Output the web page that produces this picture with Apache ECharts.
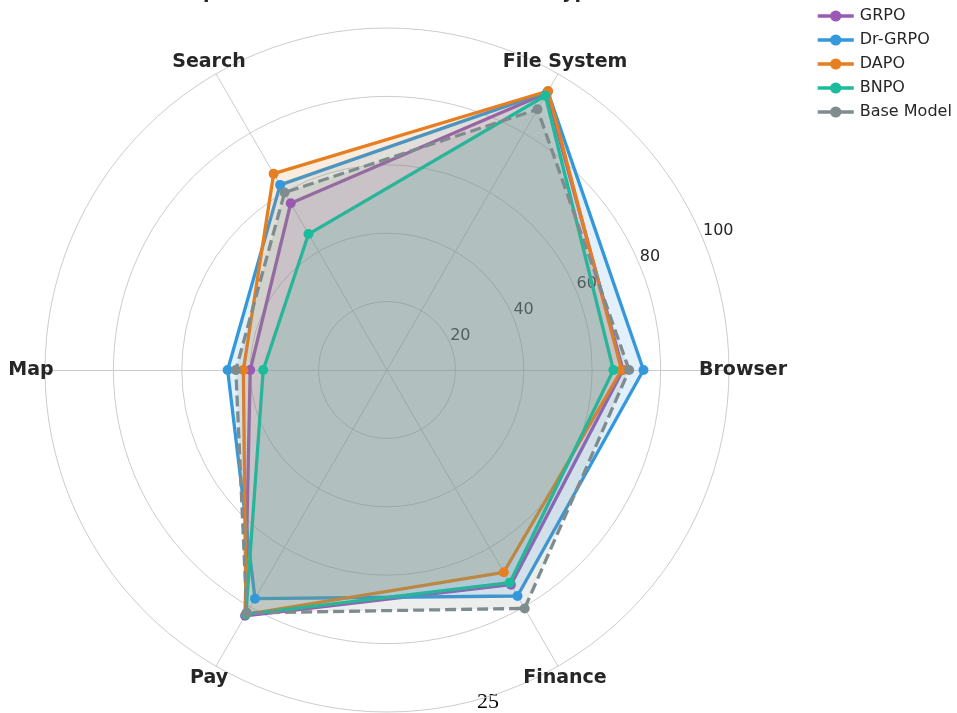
<!DOCTYPE html>
<html>
<head>
<meta charset="utf-8">
<script src="https://cdn.jsdelivr.net/npm/echarts@6/dist/echarts.min.js"></script>
<style>
  html, body { margin: 0; padding: 0; background: #ffffff; }
  #chart { width: 957px; height: 713px; }
</style>
</head>
<body>
<div id="chart"></div>
<script>
// ---- data ----
const categories = ['Browser', 'File System', 'Search', 'Map', 'Pay', 'Finance'];
const seriesNames = ['GRPO', 'Dr-GRPO', 'DAPO', 'BNPO', 'Base Model'];
const grpo     = [69.0, 93.5, 56.3, 40.0, 83.0, 72.5];
const drGrpo   = [75.0, 94.0, 62.5, 46.6, 77.2, 76.3];
const dapo     = [68.6, 94.2, 66.3, 42.0, 82.5, 68.3];
const bnpo     = [66.2, 92.6, 45.9, 36.2, 82.5, 71.8];
const baseModel = [70.8, 88.0, 59.9, 44.2, 82.0, 80.5];
const tickValues = [20, 40, 60, 80, 100];

const values = [grpo, drGrpo, dapo, bnpo, baseModel];
const colors = ['#9b59b6', '#3498db', '#e67e22', '#1abc9c', '#7f8c8d'];
const dashes = ['solid', 'solid', 'solid', 'solid', [11, 5]];

const CX = 387, CY = 370, R = 342;
const FONT = 'DejaVu Sans';

const chart = echarts.init(document.getElementById('chart'), null, { renderer: 'canvas' });

// helper legend series (no data), so legend icons show line + marker
const legendHelpers = seriesNames.map((n, i) => ({
  type: 'line', name: n, data: [], xAxisIndex: 0, yAxisIndex: 0,
  symbol: 'circle', symbolSize: 11, color: colors[i],
  lineStyle: { width: 3.5, type: i === 4 ? [13, 10] : 'solid', color: colors[i] },
  itemStyle: { color: colors[i] }
}));

const radarSeries = seriesNames.map((n, i) => ({
  type: 'radar', name: n, radarIndex: 0, z: 3,
  symbol: 'circle', symbolSize: 10,
  lineStyle: { width: 3.3, type: dashes[i], color: colors[i] },
  itemStyle: { color: colors[i] },
  areaStyle: { color: colors[i], opacity: 0.15 },
  data: [{ value: values[i], name: n }]
}));

const option = {
  backgroundColor: '#ffffff',
  animation: false,
  textStyle: { fontFamily: FONT },
  grid: { left: 0, top: 0, width: 1, height: 1, show: false },
  xAxis: { type: 'value', show: false },
  yAxis: { type: 'value', show: false },
  legend: {
    data: seriesNames,
    orient: 'vertical',
    left: 811, top: 2,
    itemWidth: 36, itemHeight: 14, itemGap: 6,
    lineStyle: { width: 3.5 },
    textStyle: { fontSize: 16, color: '#262626', fontFamily: FONT, lineHeight: 18, padding: [0, 0, 0, 1] }
  },
  polar: { center: [CX, CY], radius: R },
  angleAxis: { type: 'value', min: 0, max: 360, startAngle: 22.5, show: false },
  radiusAxis: {
    type: 'value', min: 0, max: 100, interval: 20,
    axisLine: { show: false }, axisTick: { show: false }, splitLine: { show: false },
    axisLabel: {
      margin: 0, align: 'left', verticalAlign: 'bottom',
      fontSize: 16, color: '#262626', fontFamily: FONT,
      formatter: v => (tickValues.indexOf(v) >= 0 ? String(v) : '')
    }
  },
  radar: {
    center: [CX, CY], radius: R, startAngle: 0, shape: 'circle', splitNumber: 5,
    indicator: categories.map(c => ({ name: c, min: 0, max: 100 })),
    nameGap: 14,
    axisName: { color: '#262626', fontSize: 19, fontWeight: 'bold', fontFamily: FONT, align: 'center', verticalAlign: 'middle' },
    axisLine: { lineStyle: { color: '#cccccc', width: 1 } },
    splitLine: { lineStyle: { color: '#cccccc', width: 1 } },
    splitArea: { show: false },
    axisTick: { show: false },
    axisLabel: { show: false }
  },
  graphic: [
    { type: 'text', left: 477, top: 691, style: { text: '25', font: '22px "Liberation Serif", "DejaVu Serif", serif', fill: '#000' } },
    { type: 'text', left: 203, top: -16, style: { text: 'p', font: 'bold 19px "DejaVu Sans"', fill: '#262626' } },
    { type: 'text', left: 562, top: -16, style: { text: 'yp', font: 'bold 19px "DejaVu Sans"', fill: '#262626' } }
  ],
  series: legendHelpers.concat(radarSeries)
};

chart.setOption(option);
</script>
</body>
</html>
